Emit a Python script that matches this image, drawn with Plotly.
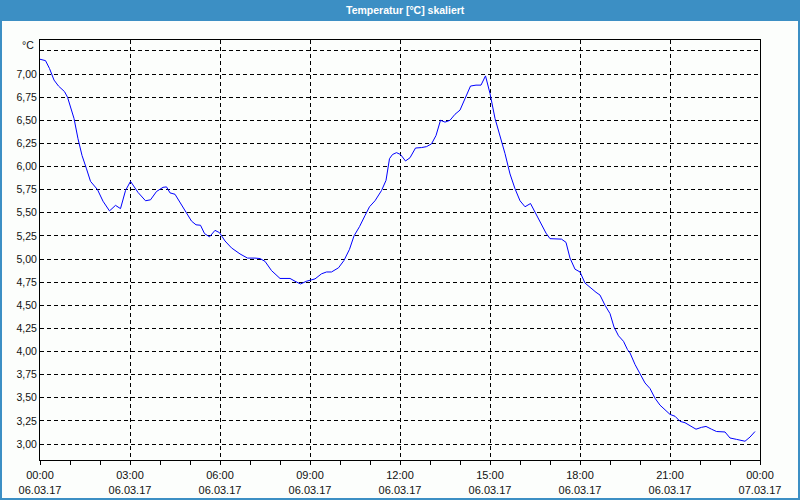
import pandas as pd
import plotly.graph_objects as go

# time in minutes after 06.03.17 00:00, temperature in °C
minutes = [0, 11, 19, 28, 37, 49, 55, 61, 68, 76, 84, 93, 101, 115, 126, 139, 151, 161, 171, 181,
           196, 211, 221, 233, 246, 253, 260, 270, 280, 293, 303, 312, 321, 329, 339, 350, 359, 370,
           383, 400, 415, 430, 440, 450, 463, 480, 500, 510, 521, 533, 550, 563, 573, 583, 597, 608,
           619, 628, 639, 650, 659, 670, 683, 692, 699, 705, 713, 721, 731, 740, 751, 763, 773, 783,
           792, 801, 810, 820, 830, 840, 850, 861, 872, 882, 891, 900, 910, 920, 930, 940, 950, 960,
           970, 981, 990, 1001, 1012, 1020, 1033, 1043, 1052, 1060, 1070, 1080, 1090, 1100, 1112,
           1120, 1130, 1140, 1148, 1157, 1167, 1175, 1180, 1190, 1200, 1210, 1220, 1230, 1240, 1250,
           1260, 1270, 1280, 1290, 1300, 1312, 1323, 1332, 1343, 1353, 1370, 1380, 1393, 1410, 1420,
           1430]
temps = [7.16, 7.145, 7.06, 6.935, 6.87, 6.81, 6.75, 6.645, 6.52, 6.30, 6.12, 5.975, 5.84, 5.75,
         5.625, 5.52, 5.58, 5.545, 5.74, 5.84, 5.72, 5.63, 5.64, 5.73, 5.775, 5.78, 5.715, 5.70, 5.61,
         5.50, 5.41, 5.37, 5.365, 5.275, 5.24, 5.31, 5.285, 5.195, 5.12, 5.055, 5.01, 5.01, 5.005,
         4.975, 4.875, 4.79, 4.79, 4.76, 4.73, 4.76, 4.785, 4.84, 4.86, 4.86, 4.905, 4.985, 5.105,
         5.25, 5.35, 5.47, 5.565, 5.63, 5.74, 5.85, 6.085, 6.13, 6.15, 6.13, 6.06, 6.095, 6.20, 6.205,
         6.215, 6.245, 6.335, 6.50, 6.48, 6.50, 6.565, 6.61, 6.725, 6.87, 6.88, 6.88, 6.98, 6.79,
         6.52, 6.335, 6.14, 5.92, 5.76, 5.63, 5.565, 5.60, 5.51, 5.385, 5.28, 5.22, 5.215, 5.215,
         5.18, 5.01, 4.89, 4.86, 4.74, 4.69, 4.64, 4.61, 4.50, 4.41, 4.265, 4.17, 4.11, 4.02, 3.985,
         3.86, 3.765, 3.66, 3.60, 3.495, 3.42, 3.375, 3.32, 3.30, 3.245, 3.23, 3.20, 3.16, 3.18,
         3.19, 3.16, 3.135, 3.13, 3.065, 3.05, 3.03, 3.075, 3.135]

x_tick_hours = [0, 3, 6, 9, 12, 15, 18, 21, 24]
y_tick_values = [3.00, 3.25, 3.50, 3.75, 4.00, 4.25, 4.50, 4.75, 5.00, 5.25, 5.50, 5.75,
                 6.00, 6.25, 6.50, 6.75, 7.00, 7.25]
title_text = "Temperatur [°C] skaliert"
unit_text = "°C"

start = pd.Timestamp("2017-03-06 00:00")
times = start + pd.to_timedelta(minutes, unit="m")
tick_times = [start + pd.Timedelta(hours=h) for h in x_tick_hours]
tick_text = [t.strftime("%H:%M") + "<br>" + t.strftime("%d.%m.%y") for t in tick_times]
y_text = [("%.2f" % v).replace(".", ",") if v <= 7.0 else "" for v in y_tick_values]

BLUE = "#3c8fc4"
FONT = "Liberation Sans"

fig = go.Figure(go.Scatter(x=times, y=temps, mode="lines",
                           line=dict(color="#0000ff", width=1), hoverinfo="skip"))

grid = dict(showgrid=True, gridcolor="#000000", gridwidth=1, griddash="4px,3px")

fig.update_layout(
    width=800, height=500,
    margin=dict(l=40, r=40, t=40, b=40),
    paper_bgcolor="#fcfefc", plot_bgcolor="#fcfefc",
    showlegend=False,
    font=dict(family=FONT, size=10, color="#111111"),
    xaxis=dict(type="date", range=[tick_times[0], tick_times[-1]],
               tickmode="array", tickvals=tick_times, ticktext=tick_text,
               ticks="outside", ticklen=4, tickcolor="#000000", tickwidth=1,
               ticklabelstandoff=1, automargin=False,
               minor=dict(dtick=3600000, ticks="outside", ticklen=4, tickcolor="#000000",
                          showgrid=False),
               showline=True, linecolor="#000000", linewidth=1, mirror=True,
               zeroline=False, tickfont=dict(size=11), **grid),
    yaxis=dict(range=[2.827, 7.368], tickmode="array", tickvals=y_tick_values, ticktext=y_text,
               ticks="", showline=True, linecolor="#000000", linewidth=1, mirror=True,
               automargin=False,
               zeroline=False, tickfont=dict(size=10.5), **grid),
)

pw, ph = 720.0, 420.0
fig.add_shape(type="rect", xref="paper", yref="paper",
              x0=-40 / pw, x1=1 + 40 / pw, y0=1 + 19 / ph, y1=1 + 41 / ph,
              fillcolor=BLUE, line=dict(width=0), layer="above")
fig.add_shape(type="rect", xref="paper", yref="paper",
              x0=-40 / pw, x1=1 + 40 / pw, y0=-40 / ph, y1=1 + 40 / ph,
              fillcolor="rgba(0,0,0,0)", line=dict(color=BLUE, width=4), layer="above")
fig.add_annotation(xref="paper", yref="paper", x=0.5 + 5 / pw, y=1 + 30 / ph,
                   text="<b>" + title_text + "</b>", showarrow=False,
                   xanchor="center", yanchor="middle",
                   font=dict(family=FONT, size=10.5, color="#ffffff"))
fig.add_annotation(xref="paper", yref="paper", x=-4 / pw, y=1 - 5 / ph,
                   text=unit_text, showarrow=False, xanchor="right", yanchor="middle",
                   font=dict(family=FONT, size=10.5, color="#111111"))

fig.write_html("out.html")
